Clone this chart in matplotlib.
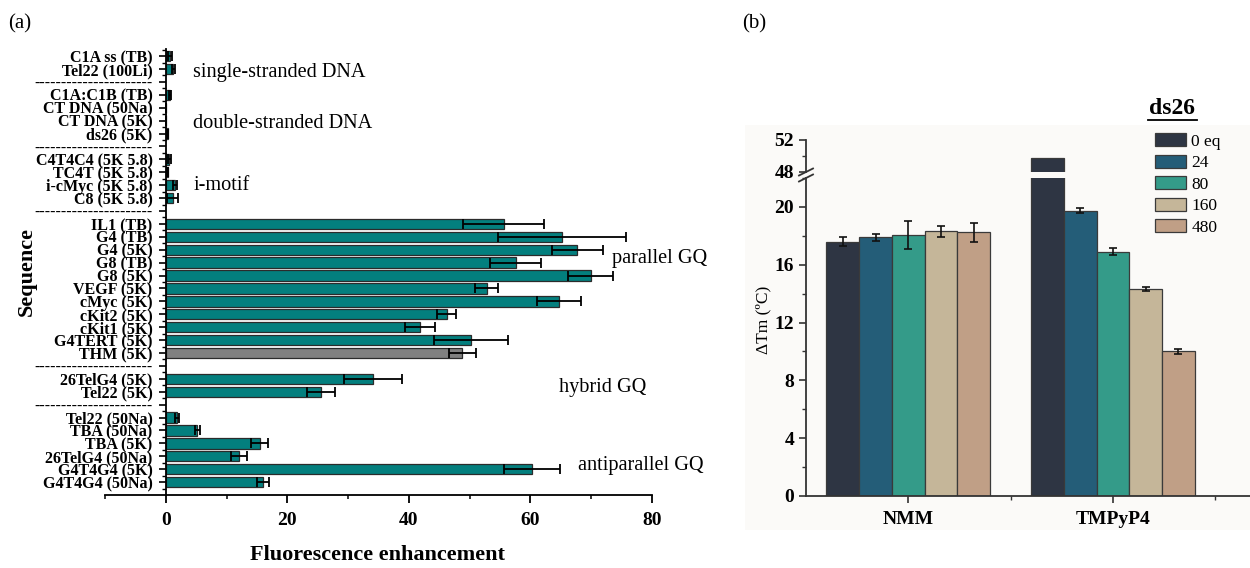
import matplotlib
matplotlib.use("Agg")
import matplotlib.pyplot as plt
from matplotlib.patches import Patch, Rectangle
from matplotlib.lines import Line2D
from matplotlib.ticker import MultipleLocator, FixedLocator

plt.rcParams['font.family'] = ['Liberation Serif', 'DejaVu Serif']

# -- Data, panel (a)
sequences = ["C1A ss (TB)", "Tel22 (100Li)",
             "C1A:C1B (TB)", "CT DNA (50Na)", "CT DNA (5K)", "ds26 (5K)",
             "C4T4C4 (5K 5.8)", "TC4T (5K 5.8)", "i-cMyc (5K 5.8)", "C8 (5K 5.8)",
             "IL1 (TB)", "G4 (TB)", "G4 (5K)", "G8 (TB)", "G8 (5K)", "VEGF (5K)",
             "cMyc (5K)", "cKit2 (5K)", "cKit1 (5K)", "G4TERT (5K)", "THM (5K)",
             "26TelG4 (5K)", "Tel22 (5K)",
             "Tel22 (50Na)", "TBA (50Na)", "TBA (5K)", "26TelG4 (50Na)",
             "G4T4G4 (5K)", "G4T4G4 (50Na)"]
enhancement = [0.7, 1.25,
               0.7, 0.05, 0.05, 0.3,
               0.6, 0.3, 1.5, 1.15,
               55.6, 65.2, 67.7, 57.6, 69.9, 52.8,
               64.7, 46.2, 41.8, 50.2, 48.8,
               34.1, 25.5,
               1.8, 5.2, 15.5, 12.0,
               60.3, 16.0]
enhancement_err = [0.3, 0.3,
                   0.2, 0.05, 0.05, 0.1,
                   0.2, 0.1, 0.3, 0.9,
                   6.7, 10.6, 4.2, 4.2, 3.7, 1.9,
                   3.7, 1.6, 2.5, 6.1, 2.2,
                   4.7, 2.3,
                   0.3, 0.35, 1.4, 1.35,
                   4.6, 1.0]
group_sizes = [2, 4, 4, 11, 2, 6]
group_names = ["single-stranded DNA", "double-stranded DNA", "i-motif",
               "parallel GQ", "hybrid GQ", "antiparallel GQ"]
grey_sequence = "THM (5K)"

# -- Data, panel (b)
ligands = ["NMM", "TMPyP4"]
equivalents = ["0 eq", "24", "80", "160", "480"]
dtm_nmm = [17.6, 17.9, 18.05, 18.3, 18.25]
dtm_nmm_err = [0.3, 0.25, 0.95, 0.35, 0.65]
dtm_tmpyp4 = [49.75, 19.75, 16.9, 14.3, 10.0]
dtm_tmpyp4_err = [0.0, 0.2, 0.25, 0.15, 0.2]

eq_colors = ['#2e3543', '#245d78', '#349b89', '#c5b699', '#c09f86']

W, H = 1250, 568
fig = plt.figure(figsize=(12.5, 5.68), dpi=100)

def fx(px):
    return px / W

def fy(py):
    return 1 - py / H

# faint background behind panel (b)
fig.patches.append(Rectangle((fx(745), fy(530)), fx(505), (530 - 125) / H,
                             transform=fig.transFigure, facecolor='#fbfaf8',
                             edgecolor='none', zorder=-5))

# -- Panel (a)
ax = fig.add_axes([fx(105), fy(495), fx(652 - 105), (495 - 49) / H])

# slot positions: one empty (dashed) slot between groups
ypos, sep_pos = [], []
slot = 0
for g, n in enumerate(group_sizes):
    for i in range(n):
        ypos.append(slot)
        slot += 1
    if g < len(group_sizes) - 1:
        sep_pos.append(slot)
        slot += 1

bar_colors = ['#808080' if s == grey_sequence else '#037f7e' for s in sequences]
ax.barh(ypos, enhancement, height=0.8, color=bar_colors, edgecolor='#2b2b2b',
        linewidth=0.9, zorder=2)
ax.errorbar(enhancement, ypos, xerr=enhancement_err, fmt='none', ecolor='black',
            elinewidth=1.3, capsize=3.6, capthick=1.3, zorder=3)

ax.set_xlim(-10, 80)
ax.set_ylim(slot, -0.55)
ax.spines['left'].set_position(('data', 0))
ax.spines['top'].set_visible(False)
ax.spines['right'].set_visible(False)
for sp in ax.spines.values():
    sp.set_linewidth(1.3)

tick_pos = ypos + sep_pos
tick_lab = sequences + ['-' * 22] * len(sep_pos)
ax.set_yticks(tick_pos)
ax.set_yticklabels(tick_lab, fontsize=11.5, fontweight='bold')
ax.yaxis.set_minor_locator(FixedLocator([i + 0.5 for i in range(-1, slot)]))
ax.set_xticks([0, 20, 40, 60, 80])
ax.set_xticklabels(['0', '20', '40', '60', '80'], fontsize=14, fontweight='bold')
ax.xaxis.set_minor_locator(MultipleLocator(10))
ax.tick_params(axis='y', which='major', length=5, width=1.2, pad=4.5)
ax.tick_params(axis='y', which='minor', length=3, width=1.0)
ax.tick_params(axis='x', which='major', length=6, width=1.3, pad=6)
ax.tick_params(axis='x', which='minor', length=3, width=1.1)

ax.set_xlabel("Fluorescence enhancement", fontsize=16, fontweight='bold')
ax.xaxis.set_label_coords(0.499, -0.112)
ax.set_ylabel("Sequence", fontsize=16, fontweight='bold')
ax.yaxis.set_label_coords(-0.124, 0.5)

# group annotations (x in data units, y in slots)
group_label_pos = [(4.5, 1.3), (4.5, 5.2), (4.5, 10.0),
                   (73.4, 15.7), (64.7, 25.7), (67.8, 31.75)]
for name, (tx, ty) in zip(group_names, group_label_pos):
    ax.text(tx, ty, name, fontsize=14.6, va='center', ha='left')

# -- Panel (b), broken y axis
left_b = fx(806)
width_b = fx(W - 806)
ax_lo = fig.add_axes([left_b, fy(496), width_b, (496 - 178) / H])
ax_hi = fig.add_axes([left_b, fy(172), width_b, (172 - 140) / H])
bw = 0.16
for i, eq in enumerate(equivalents):
    xs = [1 + (i - 2) * bw, 2 + (i - 2) * bw]
    vals = [dtm_nmm[i], dtm_tmpyp4[i]]
    errs = [dtm_nmm_err[i], dtm_tmpyp4_err[i]]
    ax_lo.bar(xs, vals, width=bw, color=eq_colors[i], edgecolor='#3a3a3a',
              linewidth=0.9, label=eq, zorder=2)
    ax_hi.bar(xs, vals, width=bw, color=eq_colors[i], edgecolor='#3a3a3a',
              linewidth=0.9, zorder=2)
    show = [k for k in range(2) if errs[k] > 0]
    ax_lo.errorbar([xs[k] for k in show], [vals[k] for k in show],
                   yerr=[errs[k] for k in show], fmt='none', ecolor='#111111',
                   elinewidth=1.2, capsize=3, capthick=1.2, zorder=3)

for a in (ax_lo, ax_hi):
    a.set_facecolor('none')
    a.set_xlim(0.5, 2.67)
    a.spines['top'].set_visible(False)
    a.spines['right'].set_visible(False)
    for sp in a.spines.values():
        sp.set_linewidth(1.3)
        sp.set_color('#333333')

ax_lo.set_ylim(0, 22.0)
ax_lo.set_yticks([0, 4, 8, 12, 16, 20])
ax_lo.set_yticklabels(['0', '4', '8', '12', '16', '20'], fontsize=14, fontweight='bold')
ax_lo.yaxis.set_minor_locator(MultipleLocator(2))
ax_lo.set_xticks([1, 2])
ax_lo.set_xticklabels(ligands, fontsize=14, fontweight='bold')
ax_lo.xaxis.set_minor_locator(FixedLocator([1.5, 2.5]))
ax_lo.tick_params(which='major', length=5, width=1.2, color='#333333')
ax_lo.tick_params(which='minor', length=3, width=1.0, color='#333333')
ax_lo.tick_params(axis='x', pad=6)
ax_lo.set_ylabel("ΔTm (ºC)", fontsize=12.5)
ax_lo.yaxis.set_label_coords(-0.077, 0.553)

ax_hi.set_ylim(48, 52)
ax_hi.spines['bottom'].set_visible(False)
ax_hi.set_xticks([])
ax_hi.set_yticks([48, 52])
ax_hi.set_yticklabels(['48', '52'], fontsize=14, fontweight='bold')
ax_hi.yaxis.set_minor_locator(FixedLocator([50]))
ax_hi.tick_params(which='major', length=5, width=1.2, color='#333333')
ax_hi.tick_params(which='minor', length=3, width=1.0, color='#333333')

# break marks on the y axis
for yb in (172, 178):
    fig.lines.append(Line2D([fx(799), fx(813)], [fy(yb + 3.5), fy(yb - 3.5)],
                            transform=fig.transFigure, color='#333333', lw=1.3))

# legend with underlined title
handles = [Patch(facecolor=c, edgecolor='#3a3a3a', linewidth=0.9) for c in eq_colors]
fig.legend(handles, equivalents, loc='upper left',
           bbox_to_anchor=(fx(1155), fy(133)), bbox_transform=fig.transFigure,
           frameon=False, fontsize=12.5, handlelength=1.8, handleheight=0.8,
           labelspacing=0.28, handletextpad=0.3, borderpad=0, borderaxespad=0)
fig.text(fx(1172), fy(108), "ds26", ha='center', va='center',
         fontsize=17, fontweight='bold')
fig.lines.append(Line2D([fx(1148), fx(1197)], [fy(120), fy(120)],
                        transform=fig.transFigure, color='black', lw=1.3))

fig.text(fx(8), fy(24), "(a)", fontsize=15, va='center')
fig.text(fx(742), fy(24), "(b)", fontsize=15, va='center')

fig.savefig("out.png", dpi=100)
